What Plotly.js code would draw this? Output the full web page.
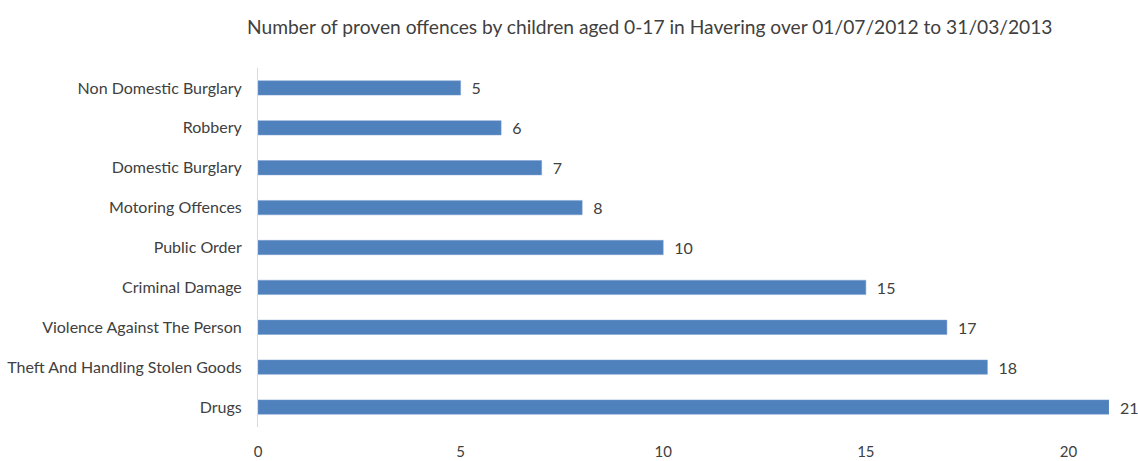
<!DOCTYPE html>
<html>
<head>
<meta charset="utf-8">
<script src="https://cdn.plot.ly/plotly-3.0.1.min.js"></script>
<style>html,body{margin:0;padding:0;background:#fff;}#chart{width:1138px;height:461px;}</style>
</head>
<body>
<div id="chart"></div>
<script>
const categories = ["Drugs", "Theft And Handling Stolen Goods", "Violence Against The Person", "Criminal Damage", "Public Order", "Motoring Offences", "Domestic Burglary", "Robbery", "Non Domestic Burglary"];
const offences = [21, 18, 17, 15, 10, 8, 7, 6, 5];
const xTicks = [0, 5, 10, 15, 20];
const chartTitle = "Number of proven offences by children aged 0-17 in Havering over 01/07/2012 to 31/03/2013";

const FONT = "Lato, 'Open Sans', sans-serif";
const data = [{
  type: "bar",
  orientation: "h",
  y: categories,
  x: offences,
  marker: {color: "#4f81bd", line: {color: "#7a9fd0", width: 0.5}},
  width: 0.36,
  text: offences.map(v => "\u2002" + v),
  textposition: "outside",
  constraintext: "none",
  cliponaxis: false,
  textfont: {family: FONT, size: 16, color: "#404040"},
  hoverinfo: "none"
}];
const layout = {
  width: 1138, height: 461,
  margin: {l: 258, r: 29, t: 68, b: 34},
  paper_bgcolor: "#fff", plot_bgcolor: "#fff",
  showlegend: false,
  font: {family: FONT, color: "#404040"},
  title: {text: chartTitle, font: {family: FONT, size: 19.2, color: "#404040"}, x: 0.571, xanchor: "center", y: 0.941, yanchor: "middle"},
  xaxis: {range: [0, 21], tickvals: xTicks, ticktext: xTicks.map(String), showgrid: false, zeroline: false, showline: false, ticks: "", ticklabelstandoff: 14, tickfont: {family: FONT, size: 15, color: "#404040"}, fixedrange: true},
  yaxis: {type: "category", categoryorder: "array", categoryarray: categories, range: [-0.5, 8.5], showgrid: false, zeroline: false, showline: true, linecolor: "#d9d9d9", linewidth: 1, ticks: "", ticklabelstandoff: 12, tickfont: {family: FONT, size: 16, color: "#404040"}, fixedrange: true}
};
Plotly.newPlot("chart", data, layout, {displayModeBar: false, staticPlot: true});
</script>
</body>
</html>
